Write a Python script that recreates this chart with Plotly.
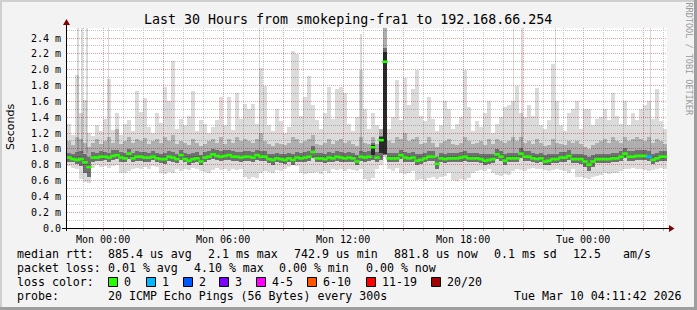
import plotly.graph_objects as go
import pandas as pd

# ---------------- data ----------------
START = "2026-03-08 22:11:42"
END = "2026-03-10 04:11:42"
STEP_MIN = 12  # one column = 12 minutes

med = [
    .89, .87, .86, .87, .83, .77, .89, .89, .90, .90,
    .89, .91, .92, .89, .88, .94, .88, .90, .90, .89,
    .89, .90, .88, .87, .87, .90, .89, .87, .92, .87,
    .85, .87, .88, .84, .89, .90, .93, .91, .90, .91,
    .92, .90, .90, .89, .90, .90, .89, .92, .90, .90,
    .87, .86, .88, .87, .86, .88, .86, .89, .88, .89,
    .90, .96, .88, .88, .87, .89, .88, .90, .89, .88,
    .89, .88, .84, .90, .89, .90, 1.02, .89, 1.11, 2.10,
    .88, .88, .88, .92, .89, .88, .89, .85, .86, .88,
    .90, .90, .81, .88, .87, .88, .88, .88, .89, .90,
    .88, .88, .88, .87, .85, .86, .87, .93, .90, .85,
    .88, .88, .88, .94, .90, .90, .88, .87, .88, .84,
    .85, .87, .87, .89, .89, .91, .87, .87, .87, .84,
    .80, .84, .87, .87, .87, .87, .88, .88, .90, .94,
    .90, .90, .91, .91, .91, .90, .86, .88, .90, .90]

lo = [
    .78, .76, .74, .62, .58, .57, .76, .79, .77, .78,
    .76, .78, .80, .70, .69, .72, .75, .76, .74, .77,
    .75, .78, .77, .70, .68, .71, .69, .74, .72, .75,
    .73, .76, .74, .72, .71, .70, .73, .76, .73, .74,
    .72, .75, .73, .74, .64, .62, .65, .63, .70, .72,
    .71, .69, .73, .72, .75, .77, .79, .78, .70, .68,
    .70, .69, .71, .68, .72, .70, .74, .73, .75, .72,
    .74, .73, .72, .74, .62, .60, .63, .75, .80, .90,
    .74, .72, .76, .69, .68, .70, .72, .61, .62, .60,
    .63, .64, .62, .65, .66, .70, .61, .60, .62, .61,
    .63, .70, .72, .73, .72, .74, .70, .67, .66, .68,
    .67, .72, .74, .73, .72, .74, .76, .75, .74, .73,
    .72, .73, .74, .73, .72, .70, .74, .65, .64, .63,
    .62, .65, .66, .67, .69, .68, .70, .69, .72, .75,
    .74, .76, .75, .74, .73, .72, .73, .74, .76, .75]

dk_lo = [
    .84, .83, .81, .78, .70, .65, .84, .85, .85, .86,
    .84, .86, .87, .84, .83, .87, .84, .85, .85, .84,
    .84, .86, .84, .82, .81, .85, .84, .82, .86, .83,
    .80, .82, .84, .80, .84, .86, .87, .86, .85, .86,
    .86, .85, .85, .84, .85, .85, .83, .86, .85, .85,
    .82, .80, .83, .82, .81, .83, .80, .84, .83, .84,
    .85, .89, .83, .83, .82, .84, .83, .85, .84, .83,
    .84, .83, .79, .85, .84, .85, .86, .84, .86, .92,
    .83, .83, .83, .87, .84, .83, .84, .80, .81, .83,
    .85, .85, .74, .83, .82, .83, .83, .83, .84, .85,
    .83, .83, .83, .82, .80, .81, .82, .87, .85, .80,
    .83, .83, .83, .88, .85, .85, .83, .82, .83, .79,
    .80, .82, .82, .84, .84, .86, .82, .82, .81, .77,
    .72, .77, .82, .82, .82, .82, .83, .83, .85, .89,
    .85, .85, .86, .86, .86, .85, .81, .83, .85, .85]

dk_hi = [
    .95, .94, .96, .97, .93, .90, .96, .95, .97, .96,
    .95, .98, .99, .96, .95, 1.00, .95, .97, .96, .96,
    .95, .97, .95, .94, .95, .97, .96, .94, .99, .95,
    .93, .95, .96, .92, .96, .97, 1.00, .98, .97, .98,
    .99, .97, .96, .96, .97, .97, .96, .99, .97, .97,
    .94, .93, .95, .94, .93, .95, .94, .96, .95, .96,
    .97, 1.03, .95, .95, .94, .96, .95, .97, .96, .95,
    .96, .95, .92, .97, .96, .97, 1.07, .96, 1.16, 2.28,
    .95, .95, .95, .99, .96, .95, .96, .93, .93, .95,
    .97, .97, .90, .95, .94, .95, .95, .95, .96, .97,
    .95, .95, .95, .94, .93, .93, .94, 1.00, .97, .93,
    .95, .95, .95, 1.01, .97, .97, .95, .94, .95, .92,
    .93, .94, .94, .96, .96, .98, .94, .94, .94, .92,
    .90, .92, .94, .94, .94, .94, .95, .95, .97, 1.01,
    .97, .97, .98, .98, .98, .97, .94, .95, .97, .97]

mid_hi = [
    1.10, 1.05, 1.15, 1.12, 1.08, 1.02, 1.08, 1.12, 1.06, 1.10,
    1.15, 1.08, 1.25, 1.06, 1.10, 1.15, 1.08, 1.12, 1.10, 1.14,
    1.06, 1.10, 1.12, 1.08, 1.15, 1.10, 1.18, 1.06, 1.10, 1.08,
    1.05, 1.12, 1.08, 1.04, 1.06, 1.10, 1.12, 1.08, 1.15, 1.06,
    1.12, 1.08, 1.15, 1.10, 1.12, 1.10, 1.08, 1.12, 1.20, 1.10,
    1.06, 1.04, 1.08, 1.06, 1.05, 1.08, 1.15, 1.12, 1.08, 1.10,
    1.12, 1.18, 1.06, 1.05, 1.08, 1.12, 1.06, 1.10, 1.12, 1.08,
    1.10, 1.06, 1.04, 1.15, 1.08, 1.06, 1.15, 1.06, 1.25, 2.53,
    1.10, 1.08, 1.15, 1.12, 1.20, 1.10, 1.12, 1.15, 1.06, 1.08,
    1.15, 1.08, 1.02, 1.08, 1.10, 1.12, 1.06, 1.05, 1.08, 1.15,
    1.10, 1.06, 1.08, 1.10, 1.05, 1.12, 1.06, 1.12, 1.10, 1.08,
    1.10, 1.15, 1.10, 1.15, 1.08, 1.10, 1.06, 1.12, 1.08, 1.04,
    1.05, 1.12, 1.08, 1.06, 1.05, 1.10, 1.08, 1.10, 1.06, 1.02,
    1.00, 1.05, 1.08, 1.10, 1.12, 1.08, 1.15, 1.10, 1.08, 1.15,
    1.10, 1.12, 1.15, 1.12, 1.10, 1.15, 1.08, 1.12, 1.10, 1.06]

hi = [
    1.31, 1.18, 1.93, 1.45, 1.62, 1.20, 1.16, 1.30, 1.22, 1.38,
    1.88, 1.24, 1.45, 1.18, 1.32, 1.36, 1.22, 1.73, 1.47, 1.64,
    1.28, 1.20, 1.45, 1.33, 1.78, 1.60, 2.11, 1.25, 1.38, 1.30,
    1.42, 1.73, 1.22, 1.36, 1.31, 1.20, 1.28, 1.36, 1.65, 1.30,
    1.66, 1.24, 1.71, 1.38, 1.57, 1.50, 1.57, 1.32, 2.02, 1.80,
    1.30, 1.22, 1.50, 1.35, 1.20, 1.28, 2.23, 2.20, 1.42, 1.65,
    1.92, 1.56, 1.36, 1.25, 1.45, 1.78, 1.38, 1.75, 1.78, 1.70,
    1.32, 1.22, 1.40, 2.00, 1.50, 1.25, 1.45, 1.30, 1.25, 2.53,
    1.25, 1.40, 1.87, 1.36, 1.90, 1.55, 1.75, 2.00, 1.42, 1.35,
    1.65, 1.38, 1.22, 1.30, 1.60, 1.50, 1.25, 1.32, 1.40, 2.00,
    1.53, 1.22, 1.35, 1.28, 1.45, 1.60, 1.20, 1.32, 1.40, 1.53,
    1.55, 1.60, 1.79, 1.45, 1.40, 1.55, 1.42, 1.77, 1.30, 1.25,
    1.36, 2.07, 1.60, 1.30, 1.22, 1.45, 1.50, 1.60, 1.25, 1.50,
    1.50, 1.30, 1.38, 1.40, 1.50, 1.36, 1.70, 1.42, 1.32, 1.60,
    1.30, 1.45, 1.36, 1.50, 1.55, 1.60, 1.38, 1.75, 1.35, 1.25]

loss = [
    0, 0, 0, 0, 0, 0, 0, 0, 0, 0,
    0, 0, 0, 0, 0, 0, 0, 0, 0, 0,
    0, 0, 0, 0, 0, 0, 0, 0, 0, 0,
    0, 0, 0, 0, 0, 0, 0, 0, 0, 0,
    0, 0, 0, 0, 0, 0, 0, 0, 0, 0,
    0, 0, 0, 0, 0, 0, 0, 0, 0, 0,
    0, 0, 0, 0, 0, 0, 0, 0, 0, 0,
    0, 0, 0, 0, 0, 0, 0, 0, 0, 0,
    0, 0, 0, 0, 0, 0, 0, 0, 0, 0,
    0, 0, 0, 0, 0, 0, 0, 0, 0, 0,
    0, 0, 0, 0, 0, 0, 0, 0, 0, 0,
    0, 0, 0, 0, 0, 0, 0, 0, 0, 0,
    0, 0, 0, 0, 0, 0, 0, 0, 0, 0,
    0, 0, 0, 0, 0, 0, 0, 0, 0, 0,
    0, 0, 0, 0, 0, 1, 0, 0, 0, 0]

# thin single-ping outliers reaching the top of the graph
spike_times = ["2026-03-08 22:45", "2026-03-08 22:57", "2026-03-08 23:12",
               "2026-03-09 00:16", "2026-03-09 07:49", "2026-03-09 12:54",
               "2026-03-09 20:31", "2026-03-09 20:57", "2026-03-09 22:37",
               "2026-03-10 03:22"]
spike_vals = [2.53, 2.53, 2.53, 2.53, 2.53, 2.45, 2.53, 2.53, 2.53, 2.53]

# columns where nearly all pings were slow (black smoke around 13:30-14:10)
dense_times = ["2026-03-09 13:29:42", "2026-03-09 13:53:42", "2026-03-09 14:05:42"]
dense_lo = [0.92, 0.95, 0.93]
dense_hi = [1.05, 1.15, 2.22]

x_tick_vals = ["2026-03-09 00:00", "2026-03-09 03:00", "2026-03-09 06:00",
               "2026-03-09 09:00", "2026-03-09 12:00", "2026-03-09 15:00",
               "2026-03-09 18:00", "2026-03-09 21:00", "2026-03-10 00:00",
               "2026-03-10 03:00"]
x_tick_text = ["Mon 00:00", "", "Mon 06:00", "", "Mon 12:00", "",
               "Mon 18:00", "", "Tue 00:00", ""]
y_tick_vals = [0.0, 0.2, 0.4, 0.6, 0.8, 1.0, 1.2, 1.4, 1.6, 1.8, 2.0, 2.2, 2.4]
y_tick_text = ["0.0", "0.2 m", "0.4 m", "0.6 m", "0.8 m", "1.0 m", "1.2 m",
               "1.4 m", "1.6 m", "1.8 m", "2.0 m", "2.2 m", "2.4 m"]

loss_labels = ["0", "1", "2", "3", "4-5", "6-10", "11-19", "20/20"]
loss_colors = ["#26ff00", "#00b8ff", "#0059ff", "#7e00ff", "#ff00ff",
               "#ff5500", "#ff0000", "#a00000"]

title_text = "Last 30 Hours from smokeping-fra1 to 192.168.66.254"
row_rtt = [("median rtt:", 16), ("885.4 us avg", 107), ("2.1 ms max", 207),
           ("742.9 us min", 293), ("881.8 us now", 393), ("0.1 ms sd", 493),
           ("12.5", 572), ("am/s", 622)]
row_loss = [("packet loss:", 16), ("0.01 % avg", 107), ("4.10 % max", 193),
            ("0.00 % min", 278), ("0.00 % now", 365)]
row_probe = [("probe:", 16), ("20 ICMP Echo Pings (56 Bytes) every 300s", 107),
             ("Tue Mar 10 04:11:42 2026", 513)]
loss_box_x = [108, 146, 183, 219, 256, 307, 366, 431]

# ---------------- geometry ----------------
W, H = 697, 310
L, R, T, B = 67, 667, 28, 228
YMAX = 2.5263
MONO = "DejaVu Sans Mono"


def px(x):
    return (x - L) / (R - L)


def py(y):
    return (B - y) / (B - T)


times = pd.date_range(pd.Timestamp(START) + pd.Timedelta(minutes=STEP_MIN / 2),
                      periods=len(med), freq=f"{STEP_MIN}min")
col_w = STEP_MIN * 60 * 1000

fig = go.Figure()


def band(xs, lower, upper, color, width=col_w):
    fig.add_trace(go.Bar(
        x=xs, y=[u - l for l, u in zip(lower, upper)], base=lower,
        width=width, marker=dict(color=color, line=dict(width=0)),
        hoverinfo="skip", showlegend=False))


band(times, lo, hi, "rgba(0,0,0,0.14)")
fig.add_trace(go.Bar(
    x=pd.to_datetime(spike_times), y=[v - 0.95 for v in spike_vals], base=0.95,
    width=4.5 * 60 * 1000, marker=dict(color="rgba(0,0,0,0.15)", line=dict(width=0)),
    hoverinfo="skip", showlegend=False))
band(times, dk_lo, mid_hi, "rgba(0,0,0,0.20)")
band(times, dk_lo, dk_hi, "rgba(0,0,0,0.36)")
band(pd.to_datetime(dense_times), dense_lo, dense_hi, "rgba(0,0,0,0.62)")

# median: one short horizontal segment per column, coloured by loss
fig.add_trace(go.Scatter(
    x=times, y=med, mode="markers",
    marker=dict(symbol="line-ew", size=4,
                line=dict(width=2.6, color=[loss_colors[v] for v in loss])),
    hoverinfo="skip", showlegend=False))

grid_dash = "1px,1px"
fig.update_layout(
    width=W, height=H, margin=dict(l=L, r=W - R, t=T, b=H - B, pad=0),
    paper_bgcolor="#f3f3f3", plot_bgcolor="#ffffff",
    barmode="overlay", bargap=0, showlegend=False,
    font=dict(family=MONO, size=10, color="#000000"),
    xaxis=dict(
        type="date", range=[START, END], showline=False, zeroline=False,
        tickmode="array", tickvals=x_tick_vals, ticktext=x_tick_text,
        showgrid=True, gridcolor="#f09a9a", griddash=grid_dash, gridwidth=1,
        ticks="outside", ticklen=2, tickcolor="#e07070",
        tickfont=dict(family=MONO, size=10),
        minor=dict(tickmode="linear", tick0="2026-03-09 00:00", dtick=3600000,
                   showgrid=True, gridcolor="#c4c4c4", griddash=grid_dash,
                   ticks="outside", ticklen=2, tickcolor="#b0b0b0"),
        fixedrange=True),
    yaxis=dict(
        range=[0, YMAX], showline=False, zeroline=False,
        tickmode="array", tickvals=y_tick_vals, ticktext=y_tick_text,
        showgrid=True, gridcolor="#f09a9a", griddash=grid_dash, gridwidth=1,
        ticks="", tickfont=dict(family=MONO, size=10), ticklabelstandoff=5,
        minor=dict(tickmode="linear", tick0=0, dtick=0.1, showgrid=True,
                   gridcolor="#c4c4c4", griddash=grid_dash),
        fixedrange=True),
)

shapes = []
# 3D frame
shapes.append(dict(type="rect", xref="paper", yref="paper", x0=px(0), x1=px(W),
                   y0=py(0), y1=py(2), fillcolor="#cfcfcf", line=dict(width=0), layer="above"))
shapes.append(dict(type="rect", xref="paper", yref="paper", x0=px(0), x1=px(2),
                   y0=py(0), y1=py(H), fillcolor="#cfcfcf", line=dict(width=0), layer="above"))
shapes.append(dict(type="rect", xref="paper", yref="paper", x0=px(0), x1=px(W),
                   y0=py(H - 3), y1=py(H), fillcolor="#9e9e9e", line=dict(width=0), layer="above"))
shapes.append(dict(type="rect", xref="paper", yref="paper", x0=px(W - 3), x1=px(W),
                   y0=py(0), y1=py(H), fillcolor="#9e9e9e", line=dict(width=0), layer="above"))
# axes with arrows
shapes.append(dict(type="line", xref="paper", yref="paper", x0=px(62), x1=px(670),
                   y0=py(228.5), y1=py(228.5), line=dict(color="#000000", width=1), layer="above"))
shapes.append(dict(type="line", xref="paper", yref="paper", x0=px(66.5), x1=px(66.5),
                   y0=py(231), y1=py(24), line=dict(color="#000000", width=1), layer="above"))
shapes.append(dict(type="path", xref="paper", yref="paper",
                   path=f"M {px(669)},{py(225)} L {px(674.5)},{py(228.5)} L {px(669)},{py(232)} Z",
                   fillcolor="#7f0000", line=dict(width=0), layer="above"))
shapes.append(dict(type="path", xref="paper", yref="paper",
                   path=f"M {px(63)},{py(25)} L {px(66.5)},{py(19)} L {px(70)},{py(25)} Z",
                   fillcolor="#7f0000", line=dict(width=0), layer="above"))
# loss colour boxes
for bx, col in zip(loss_box_x, loss_colors):
    shapes.append(dict(type="rect", xref="paper", yref="paper",
                       x0=px(bx + 0.5), x1=px(bx + 9.5), y0=py(277.5), y1=py(286.5),
                       fillcolor=col, line=dict(color="#000000", width=1), layer="above"))
fig.update_layout(shapes=shapes)

ann = []


def text(x, y, s, size=11.6, anchor="left", family=MONO, color="#000000", angle=0):
    ann.append(dict(x=px(x), y=py(y), xref="paper", yref="paper", text=s,
                    showarrow=False, xanchor=anchor, yanchor="middle",
                    borderpad=0, textangle=angle,
                    font=dict(family=family, size=size, color=color)))


text(347.5, 19, title_text, size=13.3, anchor="center")
text(10, 127, "Seconds", size=11, anchor="center", family="DejaVu Sans", angle=-90)
text(688, 58.5, "RRDTOOL / TOBI OETIKER", size=8.5, anchor="center", color="#999999", angle=90)
for s, x in row_rtt:
    text(x, 254, s)
for s, x in row_loss:
    text(x, 268, s)
text(16, 282, "loss color:")
for bx, lab in zip(loss_box_x, loss_labels):
    text(bx + 15, 282, lab)
for s, x in row_probe:
    text(x, 296, s)
fig.update_layout(annotations=ann)

fig.write_html("out.html")
